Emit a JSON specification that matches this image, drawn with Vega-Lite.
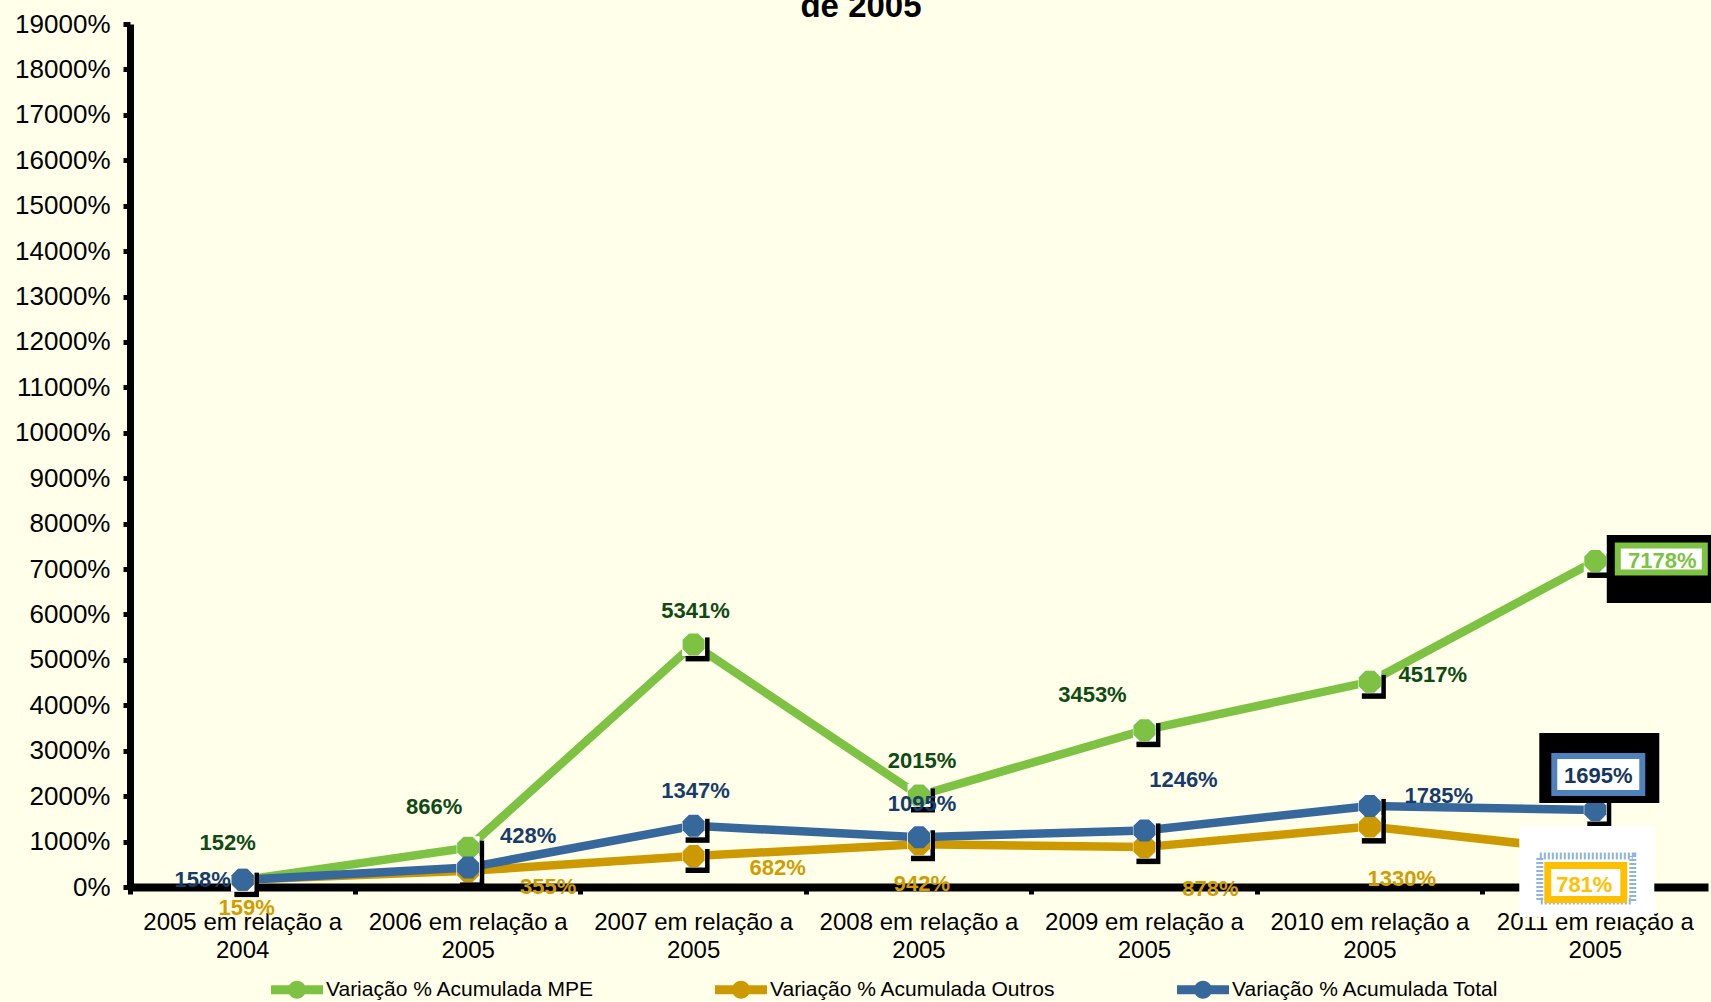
{
  "$schema": "https://vega.github.io/schema/vega-lite/v6.json",
  "width": 1578,
  "height": 863,
  "autosize": {"type": "none"},
  "padding": {"left": 130, "top": 24, "right": 3, "bottom": 115},
  "background": "#FFFFEA",
  "title": {"text": "de 2005", "fontSize": 33, "fontWeight": "bold", "font": "Liberation Sans", "color": "#000000", "anchor": "middle", "dx": -58, "dy": 39, "offset": 0, "baseline": "alphabetic"},
  "config": {"view": {"stroke": null}, "axis": {"grid": false}},
  "data": {"values": [
    {"serie": "Variação % Acumulada MPE", "periodo": "2005 em relação a 2004", "ano": 2005, "valor": 152},
    {"serie": "Variação % Acumulada MPE", "periodo": "2006 em relação a 2005", "ano": 2006, "valor": 866},
    {"serie": "Variação % Acumulada MPE", "periodo": "2007 em relação a 2005", "ano": 2007, "valor": 5341},
    {"serie": "Variação % Acumulada MPE", "periodo": "2008 em relação a 2005", "ano": 2008, "valor": 2015},
    {"serie": "Variação % Acumulada MPE", "periodo": "2009 em relação a 2005", "ano": 2009, "valor": 3453},
    {"serie": "Variação % Acumulada MPE", "periodo": "2010 em relação a 2005", "ano": 2010, "valor": 4517},
    {"serie": "Variação % Acumulada MPE", "periodo": "2011 em relação a 2005", "ano": 2011, "valor": 7178},
    {"serie": "Variação % Acumulada Outros", "periodo": "2005 em relação a 2004", "ano": 2005, "valor": 159},
    {"serie": "Variação % Acumulada Outros", "periodo": "2006 em relação a 2005", "ano": 2006, "valor": 355},
    {"serie": "Variação % Acumulada Outros", "periodo": "2007 em relação a 2005", "ano": 2007, "valor": 682},
    {"serie": "Variação % Acumulada Outros", "periodo": "2008 em relação a 2005", "ano": 2008, "valor": 942},
    {"serie": "Variação % Acumulada Outros", "periodo": "2009 em relação a 2005", "ano": 2009, "valor": 878},
    {"serie": "Variação % Acumulada Outros", "periodo": "2010 em relação a 2005", "ano": 2010, "valor": 1330},
    {"serie": "Variação % Acumulada Outros", "periodo": "2011 em relação a 2005", "ano": 2011, "valor": 781},
    {"serie": "Variação % Acumulada Total", "periodo": "2005 em relação a 2004", "ano": 2005, "valor": 158},
    {"serie": "Variação % Acumulada Total", "periodo": "2006 em relação a 2005", "ano": 2006, "valor": 428},
    {"serie": "Variação % Acumulada Total", "periodo": "2007 em relação a 2005", "ano": 2007, "valor": 1347},
    {"serie": "Variação % Acumulada Total", "periodo": "2008 em relação a 2005", "ano": 2008, "valor": 1095},
    {"serie": "Variação % Acumulada Total", "periodo": "2009 em relação a 2005", "ano": 2009, "valor": 1246},
    {"serie": "Variação % Acumulada Total", "periodo": "2010 em relação a 2005", "ano": 2010, "valor": 1785},
    {"serie": "Variação % Acumulada Total", "periodo": "2011 em relação a 2005", "ano": 2011, "valor": 1695}
  ]},
  "transform": [{"calculate": "datum.valor + '%'", "as": "rotulo"}],
  "encoding": {
    "x": {"field": "periodo", "type": "nominal", "sort": null, "bandPosition": 0.5,
      "scale": {"type": "band", "paddingInner": 0, "paddingOuter": 0},
      "axis": {"title": null, "labelAngle": 0, "labelExpr": "[slice(datum.label,0,17), slice(datum.label,18)]", "labelFont": "Liberation Sans", "labelFontSize": 24, "labelColor": "#000000", "labelLineHeight": 28, "labelPadding": 16, "labelBaseline": "top", "tickSize": 7, "tickWidth": 5, "tickColor": "#000000", "domainColor": "#000000", "domainWidth": 8, "bandPosition": 0, "labelLimit": 0}},
    "y": {"field": "valor", "type": "quantitative", "scale": {"domain": [0, 19000], "nice": false},
      "axis": {"title": null, "values": [0,1000,2000,3000,4000,5000,6000,7000,8000,9000,10000,11000,12000,13000,14000,15000,16000,17000,18000,19000], "labelExpr": "datum.value + '%'", "labelFont": "Liberation Sans", "labelFontSize": 26, "labelColor": "#000000", "labelPadding": 13, "tickSize": 7, "tickWidth": 5, "tickColor": "#000000", "domainColor": "#000000", "domainWidth": 7}}
  },
  "layer": [
    {"mark": {"type": "line", "strokeWidth": 8.5},
     "encoding": {"color": {"field": "serie", "type": "nominal",
       "scale": {"domain": ["Variação % Acumulada MPE", "Variação % Acumulada Outros", "Variação % Acumulada Total"], "range": ["#7DC242", "#CC9900", "#36689C"]},
       "legend": {"title": null, "orient": "none", "legendX": 156.5, "legendY": 955, "direction": "horizontal", "columns": 3, "columnPadding": 120, "labelOffset": 18.5, "labelFont": "Liberation Sans", "labelFontSize": 21, "labelColor": "#000000", "symbolSize": 400, "symbolType": "M-2.6,-0.45H2.6V0.45H-2.6Z M-0.9,0A0.9,0.9 0 1,1 0.9,0A0.9,0.9 0 1,1 -0.9,0Z", "symbolStrokeWidth": 0, "padding": 0, "labelLimit": 0,
         "encode": {"symbols": {"update": {"fill": {"scale": "color", "field": "value"}, "stroke": {"value": "transparent"}, "opacity": {"value": 1}}}}}}}},
    {"mark": {"type": "point", "shape": "square", "size": 576, "filled": true, "color": "#000000", "opacity": 1, "xOffset": 4, "yOffset": 5}},
    {"mark": {"type": "point", "shape": "square", "size": 529, "filled": true, "color": "#FFFFFF", "opacity": 1}},
    {"mark": {"type": "point", "shape": "M-0.414,-1L0.414,-1L1,-0.414L1,0.414L0.414,1L-0.414,1L-1,0.414L-1,-0.414Z", "size": 484, "filled": true, "opacity": 1},
     "encoding": {"color": {"field": "serie", "type": "nominal"}}},

    {"transform": [{"filter": "datum.ano==2005 && indexof(datum.serie,'MPE')>=0"}], "mark": {"type": "text", "dx": -15, "dy": -37, "fontSize": 22, "fontWeight": "bold", "font": "Liberation Sans", "color": "#0F4A14"}, "encoding": {"text": {"field": "rotulo"}}},
    {"transform": [{"filter": "datum.ano==2006 && indexof(datum.serie,'MPE')>=0"}], "mark": {"type": "text", "dx": -34, "dy": -41, "fontSize": 22, "fontWeight": "bold", "font": "Liberation Sans", "color": "#0F4A14"}, "encoding": {"text": {"field": "rotulo"}}},
    {"transform": [{"filter": "datum.ano==2007 && indexof(datum.serie,'MPE')>=0"}], "mark": {"type": "text", "dx": 2, "dy": -33, "fontSize": 22, "fontWeight": "bold", "font": "Liberation Sans", "color": "#0F4A14"}, "encoding": {"text": {"field": "rotulo"}}},
    {"transform": [{"filter": "datum.ano==2008 && indexof(datum.serie,'MPE')>=0"}], "mark": {"type": "text", "dx": 3, "dy": -34, "fontSize": 22, "fontWeight": "bold", "font": "Liberation Sans", "color": "#0F4A14"}, "encoding": {"text": {"field": "rotulo"}}},
    {"transform": [{"filter": "datum.ano==2009 && indexof(datum.serie,'MPE')>=0"}], "mark": {"type": "text", "dx": -52, "dy": -35, "fontSize": 22, "fontWeight": "bold", "font": "Liberation Sans", "color": "#0F4A14"}, "encoding": {"text": {"field": "rotulo"}}},
    {"transform": [{"filter": "datum.ano==2010 && indexof(datum.serie,'MPE')>=0"}], "mark": {"type": "text", "dx": 63, "dy": -7, "fontSize": 22, "fontWeight": "bold", "font": "Liberation Sans", "color": "#0F4A14"}, "encoding": {"text": {"field": "rotulo"}}},

    {"transform": [{"filter": "datum.ano==2005 && indexof(datum.serie,'Outros')>=0"}], "mark": {"type": "text", "dx": 4, "dy": 28, "fontSize": 22, "fontWeight": "bold", "font": "Liberation Sans", "color": "#D09C00"}, "encoding": {"text": {"field": "rotulo"}}},
    {"transform": [{"filter": "datum.ano==2006 && indexof(datum.serie,'Outros')>=0"}], "mark": {"type": "text", "dx": 80, "dy": 16, "fontSize": 22, "fontWeight": "bold", "font": "Liberation Sans", "color": "#D09C00"}, "encoding": {"text": {"field": "rotulo"}}},
    {"transform": [{"filter": "datum.ano==2007 && indexof(datum.serie,'Outros')>=0"}], "mark": {"type": "text", "dx": 84, "dy": 11.5, "fontSize": 22, "fontWeight": "bold", "font": "Liberation Sans", "color": "#D09C00"}, "encoding": {"text": {"field": "rotulo"}}},
    {"transform": [{"filter": "datum.ano==2008 && indexof(datum.serie,'Outros')>=0"}], "mark": {"type": "text", "dx": 3, "dy": 40, "fontSize": 22, "fontWeight": "bold", "font": "Liberation Sans", "color": "#D09C00"}, "encoding": {"text": {"field": "rotulo"}}},
    {"transform": [{"filter": "datum.ano==2009 && indexof(datum.serie,'Outros')>=0"}], "mark": {"type": "text", "dx": 66, "dy": 42, "fontSize": 22, "fontWeight": "bold", "font": "Liberation Sans", "color": "#D09C00"}, "encoding": {"text": {"field": "rotulo"}}},
    {"transform": [{"filter": "datum.ano==2010 && indexof(datum.serie,'Outros')>=0"}], "mark": {"type": "text", "dx": 32, "dy": 52, "fontSize": 22, "fontWeight": "bold", "font": "Liberation Sans", "color": "#D09C00"}, "encoding": {"text": {"field": "rotulo"}}},

    {"transform": [{"filter": "datum.ano==2005 && indexof(datum.serie,'Total')>=0"}], "mark": {"type": "text", "dx": -40, "dy": 0, "fontSize": 22, "fontWeight": "bold", "font": "Liberation Sans", "color": "#173B6A"}, "encoding": {"text": {"field": "rotulo"}}},
    {"transform": [{"filter": "datum.ano==2006 && indexof(datum.serie,'Total')>=0"}], "mark": {"type": "text", "dx": 60, "dy": -32, "fontSize": 22, "fontWeight": "bold", "font": "Liberation Sans", "color": "#173B6A"}, "encoding": {"text": {"field": "rotulo"}}},
    {"transform": [{"filter": "datum.ano==2007 && indexof(datum.serie,'Total')>=0"}], "mark": {"type": "text", "dx": 2, "dy": -35, "fontSize": 22, "fontWeight": "bold", "font": "Liberation Sans", "color": "#173B6A"}, "encoding": {"text": {"field": "rotulo"}}},
    {"transform": [{"filter": "datum.ano==2008 && indexof(datum.serie,'Total')>=0"}], "mark": {"type": "text", "dx": 3, "dy": -33, "fontSize": 22, "fontWeight": "bold", "font": "Liberation Sans", "color": "#173B6A"}, "encoding": {"text": {"field": "rotulo"}}},
    {"transform": [{"filter": "datum.ano==2009 && indexof(datum.serie,'Total')>=0"}], "mark": {"type": "text", "dx": 39, "dy": -50, "fontSize": 22, "fontWeight": "bold", "font": "Liberation Sans", "color": "#173B6A"}, "encoding": {"text": {"field": "rotulo"}}},
    {"transform": [{"filter": "datum.ano==2010 && indexof(datum.serie,'Total')>=0"}], "mark": {"type": "text", "dx": 69, "dy": -10, "fontSize": 22, "fontWeight": "bold", "font": "Liberation Sans", "color": "#173B6A"}, "encoding": {"text": {"field": "rotulo"}}},

    {"transform": [{"filter": "datum.ano==2011 && indexof(datum.serie,'MPE')>=0"}], "mark": {"type": "point", "shape": "M-1.05,-0.68H1.05V0.68H-1.05Z", "size": 10000, "filled": true, "color": "#000000", "opacity": 1, "xOffset": 64, "yOffset": 8}},
    {"transform": [{"filter": "datum.ano==2011 && indexof(datum.serie,'MPE')>=0"}], "mark": {"type": "point", "shape": "M-0.87,-0.27H0.87V0.27H-0.87Z", "size": 10000, "filled": false, "fill": "#FFFFFF", "fillOpacity": 1, "stroke": "#7DC242", "strokeWidth": 6, "opacity": 1, "xOffset": 66, "yOffset": -2}},
    {"transform": [{"filter": "datum.ano==2011 && indexof(datum.serie,'MPE')>=0"}], "mark": {"type": "text", "dx": 67, "dy": 0, "fontSize": 22, "fontWeight": "bold", "font": "Liberation Sans", "color": "#7DC242"}, "encoding": {"text": {"field": "rotulo"}}},

    {"transform": [{"filter": "datum.ano==2011 && indexof(datum.serie,'Total')>=0"}], "mark": {"type": "point", "shape": "M-1.2,-0.7H1.2V0.7H-1.2Z", "size": 10000, "filled": true, "color": "#000000", "opacity": 1, "xOffset": 4, "yOffset": -42}},
    {"transform": [{"filter": "datum.ano==2011 && indexof(datum.serie,'Total')>=0"}], "mark": {"type": "point", "shape": "M-0.88,-0.37H0.88V0.37H-0.88Z", "size": 10000, "filled": false, "fill": "#FFFFFF", "fillOpacity": 1, "stroke": "#4F81BD", "strokeWidth": 6, "opacity": 1, "xOffset": 3, "yOffset": -35.5}},
    {"transform": [{"filter": "datum.ano==2011 && indexof(datum.serie,'Total')>=0"}], "mark": {"type": "text", "dx": 3, "dy": -34, "fontSize": 22, "fontWeight": "bold", "font": "Liberation Sans", "color": "#17375E"}, "encoding": {"text": {"field": "rotulo"}}},

    {"transform": [{"filter": "datum.ano==2011 && indexof(datum.serie,'Outros')>=0"}], "mark": {"type": "point", "shape": "M-1.35,-0.91H1.35V0.91H-1.35Z", "size": 10000, "filled": true, "color": "#FFFFFF", "opacity": 1, "xOffset": -8.5, "yOffset": 20}},
    {"transform": [{"filter": "datum.ano==2011 && indexof(datum.serie,'Outros')>=0"}], "mark": {"type": "point", "shape": "M-0.93,-0.45H0.93V0.45H-0.93Z", "size": 10000, "filled": false, "stroke": "#8DB4E2", "strokeWidth": 7, "strokeDash": [2, 2], "opacity": 1, "xOffset": -9, "yOffset": 27}},
    {"transform": [{"filter": "datum.ano==2011 && indexof(datum.serie,'Outros')>=0"}], "mark": {"type": "point", "shape": "M-0.76,-0.34H0.76V0.34H-0.76Z", "size": 10000, "filled": false, "fill": "#FFFFFF", "fillOpacity": 1, "stroke": "#FFC000", "strokeWidth": 7, "opacity": 1, "xOffset": -9.5, "yOffset": 31}},
    {"transform": [{"filter": "datum.ano==2011 && indexof(datum.serie,'Outros')>=0"}], "mark": {"type": "text", "dx": -11, "dy": 33.5, "fontSize": 22, "fontWeight": "bold", "font": "Liberation Sans", "color": "#FFC000"}, "encoding": {"text": {"field": "rotulo"}}}
  ]
}
